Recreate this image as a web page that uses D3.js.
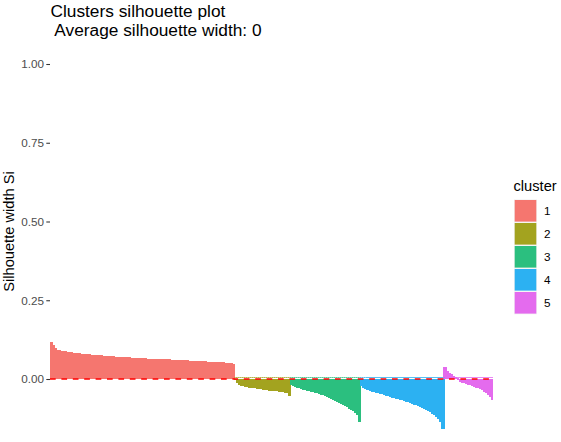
<!DOCTYPE html>
<html>
<head>
<meta charset="utf-8">
<script src="https://cdn.jsdelivr.net/npm/d3@7/dist/d3.min.js"></script>
<style>
  html, body { margin: 0; padding: 0; background: #fff; }
  svg { display: block; }
  text { font-family: "Liberation Sans", Arial, Helvetica, sans-serif; }
</style>
</head>
<body>
<svg id="chart" width="561" height="442"></svg>
<script>
// ---- data (silhouette widths, sorted within each cluster) ----
const clusterNames = ["1", "2", "3", "4", "5"];
const clusterColors = ["#F5766F", "#A3A31F", "#2BBF7F", "#2CB1F2", "#E46BEE"];

const cluster1 = [
  0.118, 0.108, 0.097, 0.093, 0.091, 0.090, 0.089, 0.088, 0.087, 0.086,
  0.085, 0.084, 0.083, 0.082, 0.081, 0.080, 0.079, 0.079, 0.078, 0.078,
  0.077, 0.077, 0.076, 0.076, 0.075, 0.075, 0.074, 0.073, 0.073, 0.072,
  0.072, 0.072, 0.071, 0.071, 0.071, 0.070, 0.070, 0.070, 0.069, 0.069,
  0.068, 0.068, 0.068, 0.067, 0.067, 0.066, 0.066, 0.066, 0.065, 0.065,
  0.065, 0.064, 0.064, 0.064, 0.063, 0.063, 0.063, 0.062, 0.062, 0.062,
  0.061, 0.061, 0.061, 0.060, 0.060, 0.060, 0.059, 0.059, 0.059, 0.058,
  0.058, 0.058, 0.057, 0.057, 0.057, 0.056, 0.056, 0.056, 0.055, 0.055,
  0.055, 0.054, 0.054, 0.054, 0.053, 0.053, 0.053, 0.052, 0.052, 0.051,
  0.050, 0.048
];
const cluster2 = [
  -0.004, -0.012, -0.018, -0.021, -0.023, -0.025, -0.026, -0.027, -0.028, -0.029,
  -0.030, -0.031, -0.032, -0.033, -0.034, -0.035, -0.036, -0.037, -0.037, -0.038,
  -0.039, -0.039, -0.040, -0.041, -0.042, -0.043, -0.045, -0.054
];
const cluster3 = [
  -0.018, -0.022, -0.025, -0.028, -0.030, -0.032, -0.034, -0.036, -0.037, -0.039,
  -0.040, -0.042, -0.044, -0.046, -0.048, -0.050, -0.052, -0.055, -0.058, -0.061,
  -0.064, -0.067, -0.070, -0.073, -0.076, -0.079, -0.082, -0.086, -0.090, -0.094,
  -0.098, -0.103, -0.108, -0.115, -0.135
];
const cluster4 = [
  -0.022, -0.030, -0.032, -0.034, -0.036, -0.038, -0.040, -0.041, -0.043, -0.045,
  -0.047, -0.049, -0.051, -0.053, -0.055, -0.057, -0.059, -0.061, -0.062, -0.064,
  -0.066, -0.068, -0.070, -0.072, -0.074, -0.076, -0.079, -0.081, -0.083, -0.086,
  -0.089, -0.092, -0.095, -0.098, -0.102, -0.106, -0.110, -0.115, -0.120, -0.127,
  -0.137, -0.160
];
const cluster5 = [
  0.038, 0.026, 0.020, 0.015, 0.011, 0.007, 0.003, -0.004, -0.010, -0.012,
  -0.014, -0.016, -0.018, -0.020, -0.022, -0.024, -0.027, -0.030, -0.033, -0.036,
  -0.040, -0.044, -0.050, -0.056, -0.066
];
const yTicks = [0, 0.25, 0.5, 0.75, 1];
const titleLines = ["Clusters silhouette plot ", " Average silhouette width: 0"];
const yTitle = "Silhouette width Si";
const legendTitle = "cluster";

// ---- build observation table ----
const seriesList = [cluster1, cluster2, cluster3, cluster4, cluster5];
const obs = [];
seriesList.forEach((vals, ci) => {
  vals.forEach(v => obs.push({ id: obs.length, cluster: ci, value: v }));
});

const svg = d3.select("#chart");

const x = d3.scaleBand()
  .domain(obs.map(d => d.id))
  .range([50, 493.3])
  .padding(0);

const y = d3.scaleLinear().domain([0, 1]).range([379, 64]);

const bw = x.bandwidth();
const isLast = d => d.id === obs.length - 1;

// bars
svg.append("g").attr("shape-rendering", "crispEdges").selectAll("rect")
  .data(obs)
  .join("rect")
  .attr("x", d => x(d.id))
  .attr("width", d => isLast(d) ? bw : bw + 1.2)
  .attr("y", d => Math.min(y(d.value), y(0)))
  .attr("height", d => Math.abs(y(d.value) - y(0)))
  .attr("fill", d => clusterColors[d.cluster]);

// faint bar outline at zero
svg.append("g").attr("shape-rendering", "crispEdges").selectAll("rect")
  .data(obs)
  .join("rect")
  .attr("x", d => x(d.id))
  .attr("width", d => isLast(d) ? bw : bw + 1.2)
  .attr("y", y(0) - 2)
  .attr("height", 1)
  .attr("fill", d => clusterColors[d.cluster])
  .attr("opacity", 0.55);

// dashed zero line
svg.append("line")
  .attr("x1", 50).attr("x2", 493.3)
  .attr("y1", y(0)).attr("y2", y(0))
  .attr("stroke", "#FF0000")
  .attr("stroke-width", 1.6)
  .attr("stroke-dasharray", "5.7,5.7");

// y axis
const yAxis = d3.axisLeft(y)
  .tickValues(yTicks)
  .tickFormat(d3.format(".2f"))
  .tickSize(3.7)
  .tickPadding(2.4);
const gy = svg.append("g").attr("transform", "translate(50,0)").call(yAxis);
gy.select(".domain").remove();
gy.selectAll(".tick line").attr("stroke", "#333333").attr("stroke-width", 1.07);
gy.selectAll(".tick text")
  .attr("fill", "#4D4D4D")
  .style("font-size", "11.7px")
  .style("font-family", "'Liberation Sans', Arial, sans-serif");

// y title
svg.append("text")
  .attr("transform", "translate(14,231.5) rotate(-90)")
  .attr("text-anchor", "middle")
  .style("font-size", "14.67px")
  .attr("fill", "#000")
  .text(yTitle);

// title
svg.append("text")
  .attr("x", 50.5).attr("y", 16.5)
  .style("font-size", "17.3px")
  .attr("fill", "#000")
  .style("white-space", "pre")
  .attr("xml:space", "preserve")
  .text(titleLines[0]);
svg.append("text")
  .attr("x", 50.5).attr("y", 36)
  .style("font-size", "17.3px")
  .attr("fill", "#000")
  .style("white-space", "pre")
  .attr("xml:space", "preserve")
  .text(titleLines[1]);

// legend
const lg = svg.append("g");
lg.append("text")
  .attr("x", 513.5).attr("y", 190.5)
  .style("font-size", "14.67px")
  .attr("fill", "#000")
  .text(legendTitle);
const keyH = 23, keyW = 23, keyTop = 199.3, keyX = 514;
clusterNames.forEach((name, i) => {
  lg.append("rect")
    .attr("x", keyX).attr("y", keyTop + i * keyH)
    .attr("width", keyW).attr("height", keyH)
    .attr("fill", "#F2F2F2");
  lg.append("rect")
    .attr("x", keyX + 0.7).attr("y", keyTop + i * keyH + 0.7)
    .attr("width", keyW - 1.4).attr("height", keyH - 1.4)
    .attr("fill", clusterColors[i]);
  lg.append("text")
    .attr("x", 544).attr("y", keyTop + i * keyH + keyH / 2)
    .attr("dy", "0.35em")
    .style("font-size", "11.7px")
    .attr("fill", "#000")
    .text(name);
});
</script>
</body>
</html>
